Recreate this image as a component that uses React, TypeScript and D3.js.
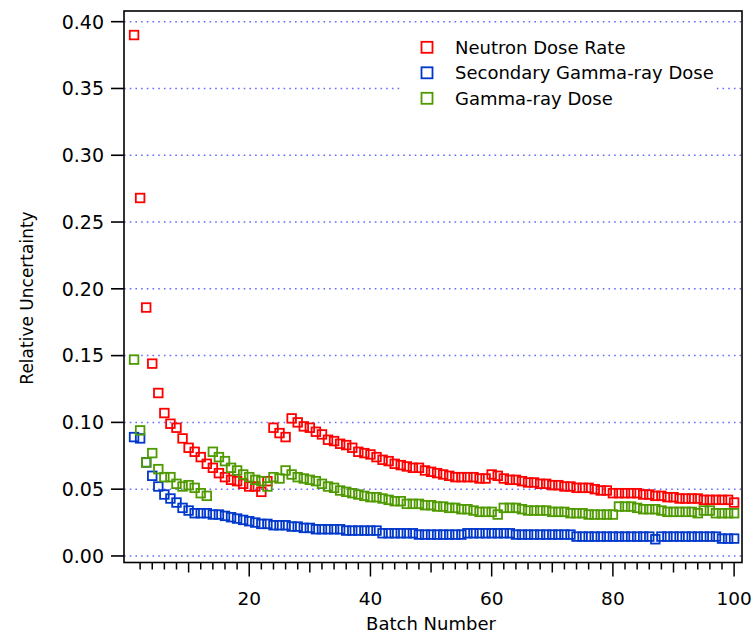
import * as d3 from "d3";

// relative uncertainty per batch (batch 1..100)
const neutronDoseRate = [
  0.390, 0.268, 0.186, 0.144, 0.122, 0.107, 0.099, 0.096, 0.088, 0.081,
  0.078, 0.074, 0.069, 0.066, 0.062, 0.059, 0.057, 0.056, 0.054, 0.052,
  0.052, 0.048, 0.056, 0.096, 0.092, 0.089, 0.103, 0.100, 0.097, 0.096,
  0.093, 0.091, 0.087, 0.086, 0.084, 0.083, 0.081, 0.078, 0.077, 0.076,
  0.074, 0.072, 0.071, 0.069, 0.068, 0.067, 0.066, 0.066, 0.064, 0.063,
  0.062, 0.061, 0.060, 0.059, 0.059, 0.059, 0.059, 0.058, 0.058, 0.061,
  0.060, 0.058, 0.057, 0.057, 0.056, 0.055, 0.055, 0.054, 0.054, 0.053,
  0.053, 0.052, 0.052, 0.051, 0.051, 0.051, 0.050, 0.049, 0.049, 0.047,
  0.047, 0.047, 0.047, 0.047, 0.046, 0.046, 0.045, 0.045, 0.044, 0.044,
  0.043, 0.043, 0.043, 0.043, 0.042, 0.042, 0.042, 0.042, 0.042, 0.040,
];

const secondaryGammaDose = [
  0.089, 0.088, 0.070, 0.060, 0.052, 0.046, 0.043, 0.040, 0.036, 0.034,
  0.032, 0.032, 0.032, 0.031, 0.031, 0.030, 0.029, 0.028, 0.027, 0.026,
  0.025, 0.024, 0.024, 0.023, 0.023, 0.023, 0.022, 0.022, 0.021, 0.021,
  0.020, 0.020, 0.020, 0.020, 0.020, 0.019, 0.019, 0.019, 0.019, 0.019,
  0.019, 0.017, 0.017, 0.017, 0.017, 0.017, 0.017, 0.016, 0.016, 0.016,
  0.016, 0.016, 0.016, 0.016, 0.016, 0.017, 0.017, 0.017, 0.017, 0.017,
  0.017, 0.017, 0.017, 0.016, 0.016, 0.016, 0.016, 0.016, 0.016, 0.016,
  0.016, 0.016, 0.016, 0.0145, 0.0145, 0.0145, 0.0145, 0.0145, 0.0145, 0.0145,
  0.0145, 0.0145, 0.0145, 0.0145, 0.0145, 0.0145, 0.0125, 0.0145, 0.0145, 0.0145,
  0.0145, 0.0145, 0.0145, 0.0145, 0.0145, 0.0145, 0.0145, 0.013, 0.013, 0.013,
];

const gammaDose = [
  0.147, 0.094, 0.070, 0.077, 0.065, 0.059, 0.059, 0.054, 0.052, 0.053,
  0.051, 0.047, 0.045, 0.078, 0.074, 0.071, 0.066, 0.064, 0.061, 0.059,
  0.057, 0.056, 0.052, 0.059, 0.058, 0.064, 0.061, 0.059, 0.058, 0.057,
  0.056, 0.054, 0.052, 0.051, 0.049, 0.048, 0.047, 0.046, 0.045, 0.044,
  0.044, 0.043, 0.042, 0.041, 0.041, 0.039, 0.039, 0.039, 0.038, 0.038,
  0.037, 0.037, 0.036, 0.036, 0.035, 0.035, 0.034, 0.033, 0.033, 0.033,
  0.031, 0.036, 0.036, 0.036, 0.035, 0.034, 0.034, 0.034, 0.034, 0.033,
  0.033, 0.033, 0.032, 0.032, 0.032, 0.031, 0.031, 0.031, 0.031, 0.031,
  0.037, 0.037, 0.037, 0.036, 0.035, 0.035, 0.035, 0.034, 0.033, 0.033,
  0.033, 0.033, 0.033, 0.032, 0.034, 0.034, 0.032, 0.032, 0.032, 0.032,
];

const seriesNames = ["Neutron Dose Rate", "Secondary Gamma-ray Dose", "Gamma-ray Dose"];
const seriesColors = ["#ff0000", "#0038cc", "#4f9a00"];
const yTicks = [0, 0.05, 0.1, 0.15, 0.2, 0.25, 0.3, 0.35, 0.4];
const xTickLabels = [20, 40, 60, 80, 100];

const W = 754;
const H = 634;
const font = "'Lucida Grande', 'DejaVu Sans', sans-serif";

export default function App() {
  // plot frame
  const left = 124, right = 742, top = 11, bottom = 562.5;

  const x = d3.scaleLinear().domain([-0.66, 101.3]).range([left, right]);
  const y = d3.scaleLinear().domain([-0.0049, 0.408]).range([bottom, top]);

  const batches = d3.range(1, neutronDoseRate.length + 1);
  const allSeries = [neutronDoseRate, secondaryGammaDose, gammaDose];

  // minor ticks every 2, medium every 10, major every 20
  const xMinor = d3.range(2, 101, 2);

  const markerSize = 8.6;

  return (
    <svg
      width={W}
      height={H}
      style={{ position: "absolute", left: 0, top: 0, background: "#fff" }}
      fontFamily={font}
    >
      {/* dotted grid */}
      {yTicks.map((t) => (
        <line
          key={"g" + t}
          x1={left}
          x2={right}
          y1={y(t)}
          y2={y(t)}
          stroke="#6a6aff"
          strokeWidth={1.5}
          strokeDasharray="1.6 4.1"
        />
      ))}

      {/* data markers */}
      {allSeries.map((vals, si) => (
        <g key={"s" + si} stroke={seriesColors[si]} strokeWidth={1.8} fill="none">
          {vals.map((v, i) => (
            <rect
              key={i}
              x={x(batches[i]) - markerSize / 2}
              y={y(v) - markerSize / 2}
              width={markerSize}
              height={markerSize}
            />
          ))}
        </g>
      ))}

      {/* frame */}
      <rect
        x={left}
        y={top}
        width={right - left}
        height={bottom - top}
        fill="none"
        stroke="#000"
        strokeWidth={1.6}
      />

      {/* y axis */}
      {yTicks.map((t) => (
        <g key={"y" + t}>
          <line x1={left - 13} x2={left} y1={y(t)} y2={y(t)} stroke="#000" strokeWidth={1.6} />
          <text
            x={left - 20}
            y={y(t)}
            dy="0.36em"
            textAnchor="end"
            fontSize={19}
            fill="#000"
          >
            {d3.format(".2f")(t)}
          </text>
        </g>
      ))}

      {/* x axis */}
      {xMinor.map((t) => {
        const len = t % 20 === 0 ? 14 : t % 10 === 0 ? 10 : 7;
        return (
          <line
            key={"x" + t}
            x1={x(t)}
            x2={x(t)}
            y1={bottom}
            y2={bottom + len}
            stroke="#000"
            strokeWidth={1.5}
          />
        );
      })}
      {xTickLabels.map((t) => (
        <text key={"xl" + t} x={x(t)} y={605} textAnchor="middle" fontSize={18.5} fill="#000">
          {t}
        </text>
      ))}

      <text x={431} y={630} textAnchor="middle" fontSize={18} fill="#000">
        Batch Number
      </text>
      <text
        transform="translate(27,298) rotate(-90)"
        textAnchor="middle"
        dy="0.35em"
        fontSize={17}
        fill="#000"
      >
        Relative Uncertainty
      </text>

      {/* legend */}
      <g>
        <rect x={403} y={29} width={313} height={82} fill="#fff" />
        {seriesNames.map((name, i) => (
          <g key={name} transform={`translate(0,${47.3 + i * 25.5})`}>
            <rect
              x={427 - 5.5}
              y={-5.5}
              width={11}
              height={11}
              fill="none"
              stroke={seriesColors[i]}
              strokeWidth={1.8}
            />
            <text x={455} y={0} dy="0.36em" fontSize={18} fill="#000">
              {name}
            </text>
          </g>
        ))}
      </g>
    </svg>
  );
}
